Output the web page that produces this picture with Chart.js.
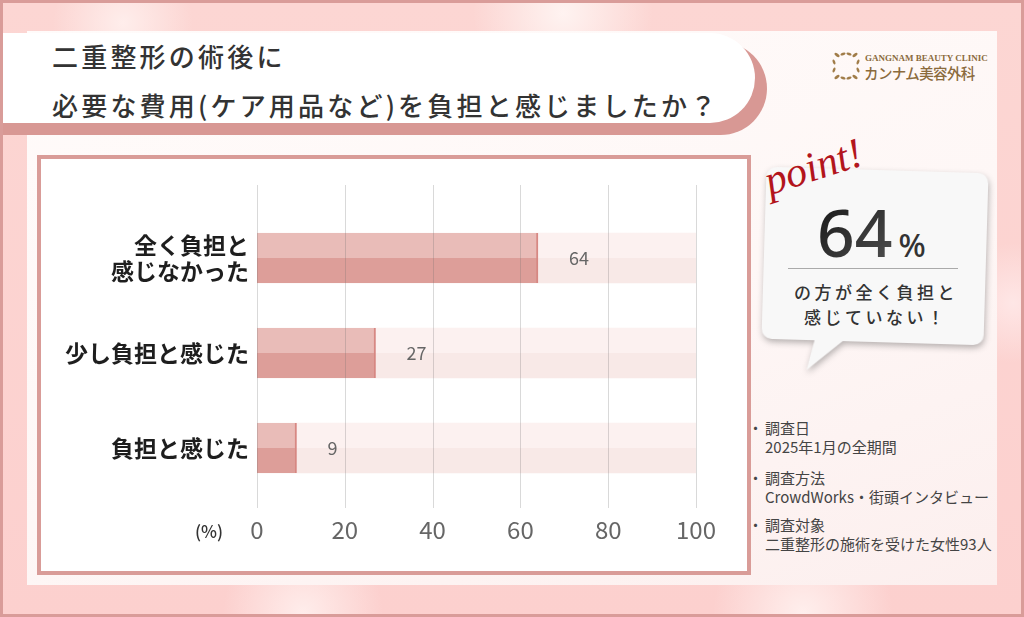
<!DOCTYPE html>
<html><head><meta charset="utf-8">
<script src="https://cdn.jsdelivr.net/npm/chart.js@4.4.1/dist/chart.umd.min.js"></script>
<style>
html,body{margin:0;padding:0;}
body{width:1024px;height:617px;overflow:hidden;position:relative;font-family:"Noto Sans CJK JP","Noto Sans",sans-serif;}
#bg{position:absolute;left:0;top:0;width:1024px;height:617px;box-sizing:border-box;border:3px solid #d99c99;
 background:
  radial-gradient(circle at 120px 20px, rgba(255,240,238,0.9) 0, rgba(255,240,238,0) 70px),
  radial-gradient(circle at 560px 10px, rgba(255,246,244,0.9) 0, rgba(255,246,244,0) 90px),
  radial-gradient(circle at 1010px 300px, rgba(255,235,235,0.8) 0, rgba(255,235,235,0) 60px),
  radial-gradient(circle at 300px 610px, rgba(255,240,238,0.9) 0, rgba(255,240,238,0) 80px),
  radial-gradient(circle at 800px 610px, rgba(255,242,240,0.9) 0, rgba(255,242,240,0) 90px),
  linear-gradient(180deg,#fcd6d3 0%,#fcd0ce 100%);}
#panel{position:absolute;left:27px;top:31px;width:970px;height:554px;
 background:linear-gradient(160deg,#fffbfa 0%,#fef7f6 55%,#fcefee 100%);}
#tshadow{position:absolute;left:3px;top:42px;width:764px;height:93px;background:#d89894;border-radius:0 50px 50px 0;}
#tbox{position:absolute;left:3px;top:33px;width:752px;height:90px;background:#fff;border-radius:0 46px 46px 0;}
.tline{position:absolute;left:52px;font-size:26px;letter-spacing:3.2px;color:#333;font-weight:500;white-space:nowrap;line-height:1;}
#frame{position:absolute;left:37px;top:155px;width:714px;height:420px;box-sizing:border-box;border:4px solid #d99c98;background:#fff;}
#chartwrap{position:absolute;left:41px;top:159px;width:706px;height:412px;}
#logo{position:absolute;left:832px;top:50px;width:150px;height:32px;}
#logo .en{position:absolute;left:33px;top:3px;font-family:"Liberation Serif","DejaVu Serif",serif;font-size:9px;color:#8b6b3d;white-space:nowrap;font-weight:bold;}
#logo .jp{position:absolute;left:32px;top:12px;font-size:14.5px;color:#8b6b3d;white-space:nowrap;font-weight:500;letter-spacing:-0.6px;}
#bubble{position:absolute;left:764px;top:170px;width:222px;height:172px;transform:rotate(1.7deg);transform-origin:center;filter:drop-shadow(1px 3px 3px rgba(0,0,0,0.28));}
#bubble .box{position:absolute;left:0;top:0;width:222px;height:172px;background:#f8f8f8;border-radius:10px;}
#bubble .tail{position:absolute;left:40px;top:168px;width:50px;height:36px;background:#f8f8f8;clip-path:polygon(14px 0,46px 0,6px 34px);}
#point{position:absolute;left:772px;top:160px;font-family:"Liberation Serif","DejaVu Serif",serif;font-style:italic;font-size:42px;color:#b3151c;transform:rotate(-18deg);transform-origin:0 100%;white-space:nowrap;line-height:1;}
#big{position:absolute;left:817px;top:198px;white-space:nowrap;line-height:1;font-family:"Noto Sans","Lato",sans-serif;color:#2a2a2a;}
#big .n{font-size:66px;font-weight:500;background:linear-gradient(135deg,#111 0%,#555 100%);-webkit-background-clip:text;background-clip:text;color:transparent;}
#big .p{font-size:32px;font-weight:500;margin-left:6px;color:#333;}
#divider{position:absolute;left:788px;top:268px;width:170px;height:1px;background:#aaa;}
.ptxt{position:absolute;font-size:17px;color:#333;letter-spacing:3.5px;white-space:nowrap;line-height:1;font-weight:500;}
.note{position:absolute;left:765px;font-size:15px;color:#444;line-height:19px;white-space:nowrap;}
.note b{position:absolute;left:-17px;top:0;font-weight:normal;}
</style></head>
<body>
<div id="bg"></div>
<div id="panel"></div>
<div id="tshadow"></div>
<div id="tbox"></div>
<div class="tline" style="top:43px;">二重整形の術後に</div>
<div class="tline" style="top:92px;">必要な費用(ケア用品など)を負担と感じましたか？</div>

<div id="logo">
 <svg width="28" height="28" viewBox="0 0 28 28" style="position:absolute;left:0;top:2px;">
  <g fill="#a07c48">
   <ellipse cx="5" cy="3" rx="3" ry="1.4" transform="rotate(35 5 3)"/>
   <ellipse cx="11" cy="2" rx="2.6" ry="1.2" transform="rotate(-20 11 2)"/>
   <ellipse cx="17" cy="2" rx="2.6" ry="1.2" transform="rotate(20 17 2)"/>
   <ellipse cx="23" cy="3" rx="3" ry="1.4" transform="rotate(-35 23 3)"/>
   <ellipse cx="5" cy="25" rx="3" ry="1.4" transform="rotate(-35 5 25)"/>
   <ellipse cx="11" cy="26" rx="2.6" ry="1.2" transform="rotate(20 11 26)"/>
   <ellipse cx="17" cy="26" rx="2.6" ry="1.2" transform="rotate(-20 17 26)"/>
   <ellipse cx="23" cy="25" rx="3" ry="1.4" transform="rotate(35 23 25)"/>
   <ellipse cx="2" cy="10" rx="1.2" ry="2.6" transform="rotate(-20 2 10)"/>
   <ellipse cx="2" cy="18" rx="1.2" ry="2.6" transform="rotate(20 2 18)"/>
   <ellipse cx="26" cy="10" rx="1.2" ry="2.6" transform="rotate(20 26 10)"/>
   <ellipse cx="26" cy="18" rx="1.2" ry="2.6" transform="rotate(-20 26 18)"/>
  </g>
 </svg>
 <div class="en">GANGNAM BEAUTY CLINIC</div>
 <div class="jp">カンナム美容外科</div>
</div>

<div id="frame"></div>
<div id="chartwrap"><canvas id="c" width="706" height="412"></canvas></div>

<div id="bubble"><div class="tail"></div><div class="box"></div></div>
<div id="point">point!</div>
<div id="big"><span class="n">64</span><span class="p">%</span></div>
<div id="divider"></div>
<div class="ptxt" style="left:794px;top:283px;">の方が全く負担と</div>
<div class="ptxt" style="left:804px;top:308px;">感じていない！</div>

<div class="note" style="top:418px;"><b>・</b>調査日<br>2025年1月の全期間</div>
<div class="note" style="top:468px;"><b>・</b>調査方法<br>CrowdWorks・街頭インタビュー</div>
<div class="note" style="top:515px;"><b>・</b>調査対象<br>二重整形の施術を受けた女性93人</div>

<script>
const categories = [['全く負担と', '感じなかった'], '少し負担と感じた', '負担と感じた'];
const values = [64, 27, 9];
const trackValues = [100, 100, 100];
const xTicks = [0, 20, 40, 60, 80, 100];
const axisUnit = '(%)';

Chart.defaults.font.family = '"Noto Sans CJK JP", "Noto Sans", sans-serif';

const BAR = 50;
function twoTone(top, bottom) {
  return (ctx) => {
    const chart = ctx.chart;
    const y = chart.scales && chart.scales.y;
    if (!chart.chartArea || !y || ctx.type !== 'data') return bottom;
    const yc = y.getPixelForValue(ctx.dataIndex);
    const g = chart.ctx.createLinearGradient(0, yc - BAR / 2, 0, yc + BAR / 2);
    g.addColorStop(0, top); g.addColorStop(0.5, top);
    g.addColorStop(0.5, bottom); g.addColorStop(1, bottom);
    return g;
  };
}

const overlay = {
  id: 'overlay',
  afterDatasetsDraw(chart) {
    const { ctx, chartArea, scales: { x } } = chart;
    ctx.save();
    ctx.strokeStyle = 'rgba(110,110,110,0.26)';
    ctx.lineWidth = 1;
    const t = chartArea.top - 25.5, b = chartArea.bottom + 12.5;
    xTicks.forEach(v => {
      const px = Math.round(x.getPixelForValue(v)) + 0.5;
      ctx.beginPath(); ctx.moveTo(px, t); ctx.lineTo(px, b); ctx.stroke();
    });
    const meta = chart.getDatasetMeta(1);
    ctx.fillStyle = '#666';
    ctx.font = '18px "Noto Sans CJK JP", "Noto Sans", sans-serif';
    ctx.textAlign = 'left';
    ctx.textBaseline = 'middle';
    meta.data.forEach((bar, i) => {
      ctx.fillText(String(values[i]), bar.x + 31, bar.y);
    });
    ctx.fillStyle = '#333';
    ctx.font = '500 17px "Noto Sans CJK JP", "Noto Sans", sans-serif';
    ctx.textAlign = 'center';
    ctx.fillText(axisUnit, x.left - 48, chartArea.bottom + 36);
    ctx.restore();
  }
};

new Chart(document.getElementById('c'), {
  type: 'bar',
  data: {
    labels: categories,
    datasets: [
      { label: 'track', data: trackValues, backgroundColor: twoTone('#fcf1f0', '#f8e9e7'),
        order: 2, grouped: false, barThickness: BAR, borderWidth: 0 },
      { label: 'value', data: values, backgroundColor: twoTone('#e9bcb8', '#dd9e99'),
        borderColor: 'rgba(208,118,112,0.85)', borderWidth: { top: 0, right: 2, bottom: 0, left: 0 },
        borderSkipped: false, order: 1, grouped: false, barThickness: BAR }
    ]
  },
  options: {
    indexAxis: 'y',
    responsive: false,
    animation: false,
    events: [],
    layout: { padding: { top: 51.5, right: 51, bottom: 0, left: 0 } },
    plugins: { legend: { display: false }, tooltip: { enabled: false } },
    scales: {
      x: {
        min: 0, max: 100,
        afterBuildTicks: s => { s.ticks = xTicks.map(v => ({ value: v })); },
        afterFit: s => { s.height = 75.5; },
        grid: { display: false, drawTicks: false },
        border: { display: false },
        ticks: { color: '#666', font: { size: 24 }, padding: 20, maxRotation: 0 }
      },
      y: {
        afterFit: s => { s.width = 216; },
        grid: { display: false, drawTicks: false },
        border: { display: false },
        ticks: { color: '#1e1e1e', font: { size: 23, weight: 'bold', lineHeight: 1.15 }, padding: 8 }
      }
    }
  },
  plugins: [overlay]
});
</script>
</body></html>
